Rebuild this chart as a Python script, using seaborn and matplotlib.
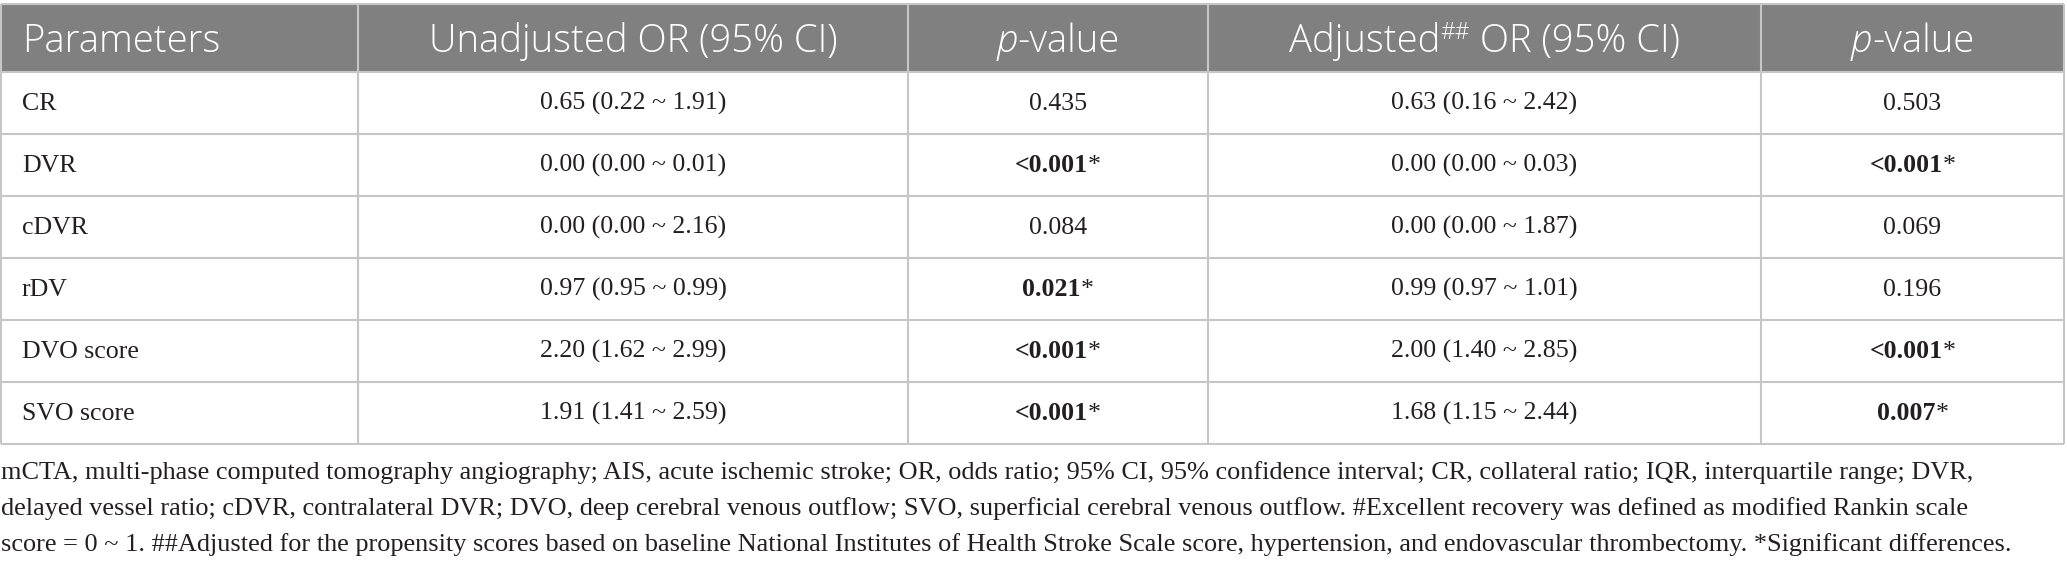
import matplotlib
matplotlib.use("Agg")
import matplotlib.pyplot as plt
from matplotlib.patches import Rectangle
import seaborn as sns

# table content
params = ["CR", "DVR", "cDVR", "rDV", "DVO score", "SVO score"]
unadj_or = ["0.65 (0.22 ~ 1.91)", "0.00 (0.00 ~ 0.01)", "0.00 (0.00 ~ 2.16)",
            "0.97 (0.95 ~ 0.99)", "2.20 (1.62 ~ 2.99)", "1.91 (1.41 ~ 2.59)"]
unadj_p = ["0.435", "<0.001", "0.084", "0.021", "<0.001", "<0.001"]
adj_or = ["0.63 (0.16 ~ 2.42)", "0.00 (0.00 ~ 0.03)", "0.00 (0.00 ~ 1.87)",
          "0.99 (0.97 ~ 1.01)", "2.00 (1.40 ~ 2.85)", "1.68 (1.15 ~ 2.44)"]
adj_p = ["0.503", "<0.001", "0.069", "0.196", "<0.001", "0.007"]

footnote = [
    "mCTA, multi-phase computed tomography angiography; AIS, acute ischemic stroke; OR, odds ratio; "
    "95% CI, 95% confidence interval; CR, collateral ratio; IQR, interquartile range; DVR,",
    "delayed vessel ratio; cDVR, contralateral DVR; DVO, deep cerebral venous outflow; SVO, superficial "
    "cerebral venous outflow. #Excellent recovery was defined as modified Rankin scale",
    "score = 0 ~ 1. ##Adjusted for the propensity scores based on baseline National Institutes of Health "
    "Stroke Scale score, hypertension, and endovascular thrombectomy. *Significant differences.",
]

sns.set_style("white")

W, H = 2067, 573
col_edges = [1, 358, 908, 1208, 1761, 2064]
top, head_bot, row_h = 4, 72, 62
table_bot = head_bot + row_h * len(params)

head_font = "Open Sans"
body_font = "Liberation Serif"
head_size = 27.5
body_size = 18.6
note_size = 18.9
head_grey = "#808080"
line_grey = "#c6c6c6"
ink = "#231f20"

fig = plt.figure(figsize=(W / 100, H / 100), dpi=100)
ax = fig.add_axes([0, 0, 1, 1])
ax.set_xlim(0, W)
ax.set_ylim(H, 0)
ax.axis("off")
renderer = fig.canvas.get_renderer()


def put(x, y, segs, ha="center", **common):
    # draw a run of differently styled pieces on one baseline
    texts = []
    cur = 0.0
    for s, kw in segs:
        kw = dict(kw)
        dy = kw.pop("dy", 0)
        t = ax.text(x + cur, y + dy, s, ha="left", va="baseline", **{**common, **kw})
        w = t.get_window_extent(renderer).width
        texts.append(t)
        cur += w
    if ha == "center":
        for t in texts:
            px, py = t.get_position()
            t.set_position((px - cur / 2, py))


# header band
ax.add_patch(Rectangle((col_edges[0], top), col_edges[-1] - col_edges[0], head_bot - top,
                       facecolor=head_grey, edgecolor="none", zorder=0))

# grid lines
for yy in [top, head_bot] + [head_bot + row_h * (i + 1) for i in range(len(params))]:
    ax.plot([col_edges[0], col_edges[-1]], [yy, yy], color=line_grey, lw=1.5, zorder=2,
            solid_capstyle="butt")
for xx in col_edges:
    ax.plot([xx, xx], [top, table_bot], color=line_grey, lw=1.5, zorder=2, solid_capstyle="butt")

centers = [(col_edges[i] + col_edges[i + 1]) / 2 for i in range(len(col_edges) - 1)]

# header texts
hy = 52
hkw = dict(family=head_font, fontsize=head_size, color="white", fontweight="light")
put(22, hy, [("Parameters", {})], ha="left", **hkw)
put(centers[1], hy, [("Unadjusted OR (95% CI)", {})], **hkw)
put(centers[2], hy, [("p", {"style": "italic"}), ("-value", {})], **hkw)
put(centers[3], hy, [("Adjusted", {}), ("##", {"fontsize": head_size * 0.6, "dy": -13}),
                     (" OR (95% CI)", {})], **hkw)
put(centers[4], hy, [("p", {"style": "italic"}), ("-value", {})], **hkw)


def is_sig(p):
    return p.startswith("<") or float(p) < 0.05


bkw = dict(family=body_font, fontsize=body_size, color=ink)
for i, name in enumerate(params):
    by = head_bot + row_h * i + row_h / 2 + 7
    put(22, by, [(name, {})], ha="left", **bkw)
    put(centers[1], by, [(unadj_or[i], {})], **bkw)
    put(centers[3], by, [(adj_or[i], {})], **bkw)
    for col, p in [(2, unadj_p[i]), (4, adj_p[i])]:
        if is_sig(p):
            put(centers[col], by, [(p, {"fontweight": "bold"}), ("*", {})], **bkw)
        else:
            put(centers[col], by, [(p, {})], **bkw)

# footnote
for j, line in enumerate(footnote):
    ax.text(1, 479 + 36 * j, line, ha="left", va="baseline", family=body_font,
            fontsize=note_size, color=ink)

fig.savefig("out.png", dpi=100, facecolor="white")
